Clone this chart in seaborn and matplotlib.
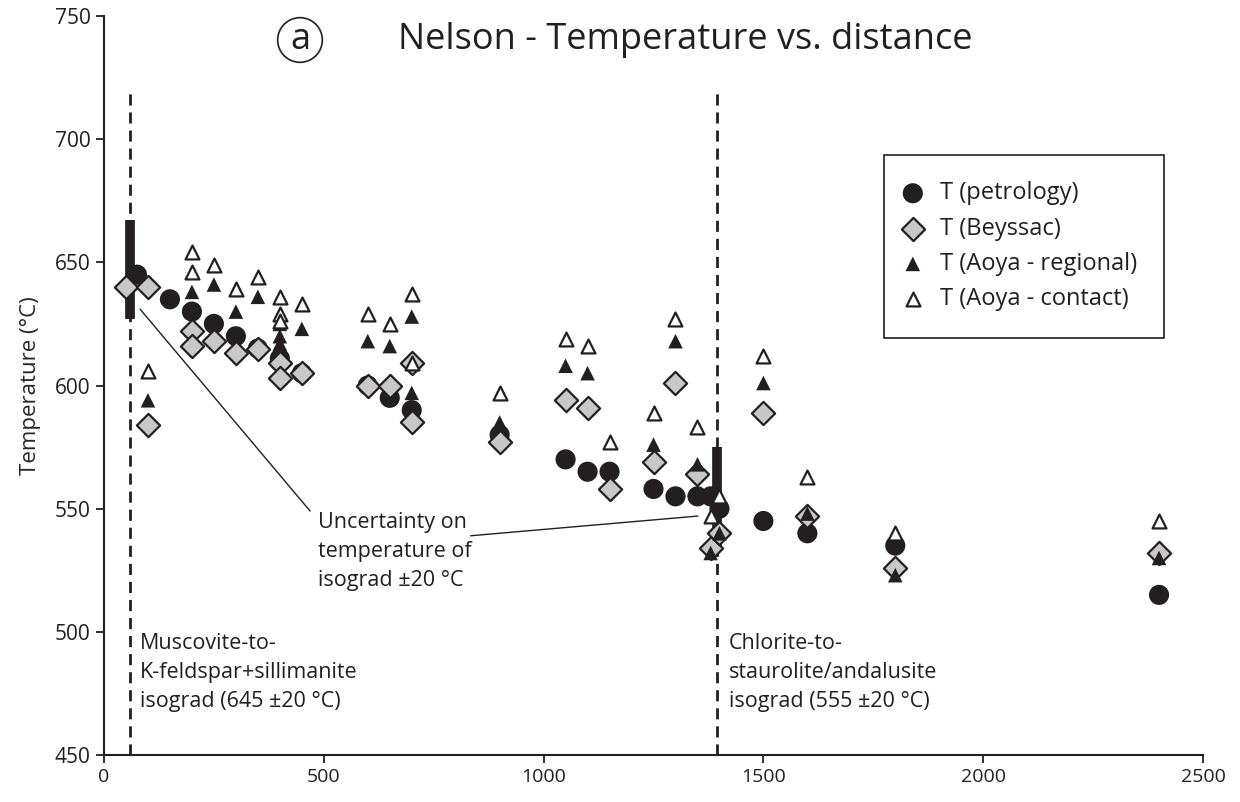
import matplotlib
matplotlib.use("Agg")
import matplotlib.pyplot as plt
import seaborn as sns

# distance (x) and temperature (°C)
petro_x = [75, 150, 200, 250, 300, 350, 400, 450, 600, 650, 700, 900, 1050, 1100,
           1150, 1250, 1300, 1350, 1380, 1400, 1500, 1600, 1800, 2400]
petro_t = [645, 635, 630, 625, 620, 615, 611, 605, 600, 595, 590, 580, 570, 565,
           565, 558, 555, 555, 555, 550, 545, 540, 535, 515]

beys_x = [50, 100, 100, 200, 200, 250, 300, 350, 400, 400, 450, 600, 650, 700, 700,
          900, 1050, 1100, 1150, 1250, 1300, 1350, 1380, 1400, 1500, 1600, 1800, 2400]
beys_t = [640, 640, 584, 622, 616, 618, 613, 615, 609, 603, 605, 600, 600, 609, 585,
          577, 594, 591, 558, 569, 601, 564, 534, 540, 589, 547, 526, 532]

reg_x = [100, 200, 250, 300, 350, 400, 400, 400, 450, 600, 650, 700, 700, 900, 1050,
         1100, 1250, 1300, 1350, 1380, 1400, 1500, 1600, 1800, 2400]
reg_t = [594, 638, 641, 630, 636, 625, 620, 617, 623, 618, 616, 628, 597, 585, 608,
         605, 576, 618, 568, 532, 540, 601, 548, 523, 530]

cont_x = [100, 200, 200, 250, 300, 350, 400, 400, 400, 450, 600, 650, 700, 700, 900,
          1050, 1100, 1150, 1250, 1300, 1350, 1380, 1400, 1500, 1600, 1800, 2400]
cont_t = [606, 654, 646, 649, 639, 644, 636, 629, 626, 633, 629, 625, 637, 609, 597,
          619, 616, 577, 589, 627, 583, 547, 555, 612, 563, 540, 545]

# isograds: position and the drawn uncertainty bar (±20 °C)
isograd_x = [60, 1395]
isograd_lo = [627, 535]
isograd_hi = [667, 575]

INK = "#231f20"
GREY = "#c8c8c8"

sns.set_style("white")
plt.rcParams["font.family"] = ["Open Sans", "DejaVu Sans"]
plt.rcParams["text.color"] = INK

fig = plt.figure(figsize=(12.4, 8.02), dpi=100)
ax = fig.add_axes([104 / 1240, 1 - 755 / 802, (1203 - 104) / 1240, (755 - 16) / 802])

# dashed isograd lines and thick uncertainty bars
for xi, lo, hi in zip(isograd_x, isograd_lo, isograd_hi):
    ax.plot([xi, xi], [450, 720], color=INK, lw=2, ls=(0, (4, 2.5)), zorder=1)
    ax.plot([xi, xi], [lo, hi], color=INK, lw=7, solid_capstyle="butt", zorder=2)

sns.scatterplot(x=petro_x, y=petro_t, marker="o", s=210, color=INK,
                edgecolor="none", ax=ax, label="T (petrology)", zorder=3)
sns.scatterplot(x=beys_x, y=beys_t, marker="D", s=140, color=GREY,
                edgecolor=INK, linewidth=1.6, ax=ax, label="T (Beyssac)", zorder=4)
sns.scatterplot(x=reg_x, y=reg_t, marker="^", s=110, color=INK,
                edgecolor="none", ax=ax, label="T (Aoya - regional)", zorder=5)
sns.scatterplot(x=cont_x, y=cont_t, marker="^", s=100, color="white",
                edgecolor=INK, linewidth=1.6, ax=ax, label="T (Aoya - contact)", zorder=6)

ax.set_xlim(0, 2500)
ax.set_ylim(450, 750)
ax.set_xticks(range(0, 2501, 500))
ax.set_yticks(range(450, 751, 50))
ax.set_ylabel("Temperature (°C)", fontsize=16, labelpad=10)
ax.tick_params(axis="both", direction="out", length=6, width=1.3, colors=INK,
               bottom=True, left=True)
ax.tick_params(axis="y", labelsize=15)
ax.tick_params(axis="x", labelsize=14)
for side in ["top", "right"]:
    ax.spines[side].set_visible(False)
for side in ["left", "bottom"]:
    ax.spines[side].set_color(INK)
    ax.spines[side].set_linewidth(1.5)

leg = ax.legend(loc="upper left", bbox_to_anchor=(884 / 1240, 1 - 155 / 802),
                bbox_transform=fig.transFigure, fontsize=17, frameon=True,
                fancybox=False, edgecolor=INK, framealpha=1, borderpad=1.12,
                labelspacing=0.48, handlelength=0.2, handletextpad=1.05,
                borderaxespad=0)
leg.get_frame().set_linewidth(1.2)

# isograd labels
ax.text(82, 499.5, "Muscovite-to-\nK-feldspar+sillimanite\nisograd (645 ±20 °C)",
        fontsize=15.5, va="top", ha="left", linespacing=1.5)
ax.text(1421, 499.5, "Chlorite-to-\nstaurolite/andalusite\nisograd (555 ±20 °C)",
        fontsize=15.5, va="top", ha="left", linespacing=1.5)

# uncertainty note with leader lines
ax.text(487, 548.5, "Uncertainty on\ntemperature of\nisograd ±20 °C",
        fontsize=15.5, va="top", ha="left", linespacing=1.5)
ax.plot([82, 469], [631, 549], color=INK, lw=1)
ax.plot([834, 1351], [539, 547], color=INK, lw=1)

fig.text(398 / 1240, 1 - 40 / 802, "Nelson - Temperature vs. distance",
         fontsize=26, ha="left", va="center")
fig.text(300 / 1240, 1 - 40 / 802, "a", fontsize=26, ha="center", va="center",
         bbox=dict(boxstyle="circle,pad=0.12", fc="white", ec=INK, lw=1.2))

fig.savefig("out.png", dpi=100)
